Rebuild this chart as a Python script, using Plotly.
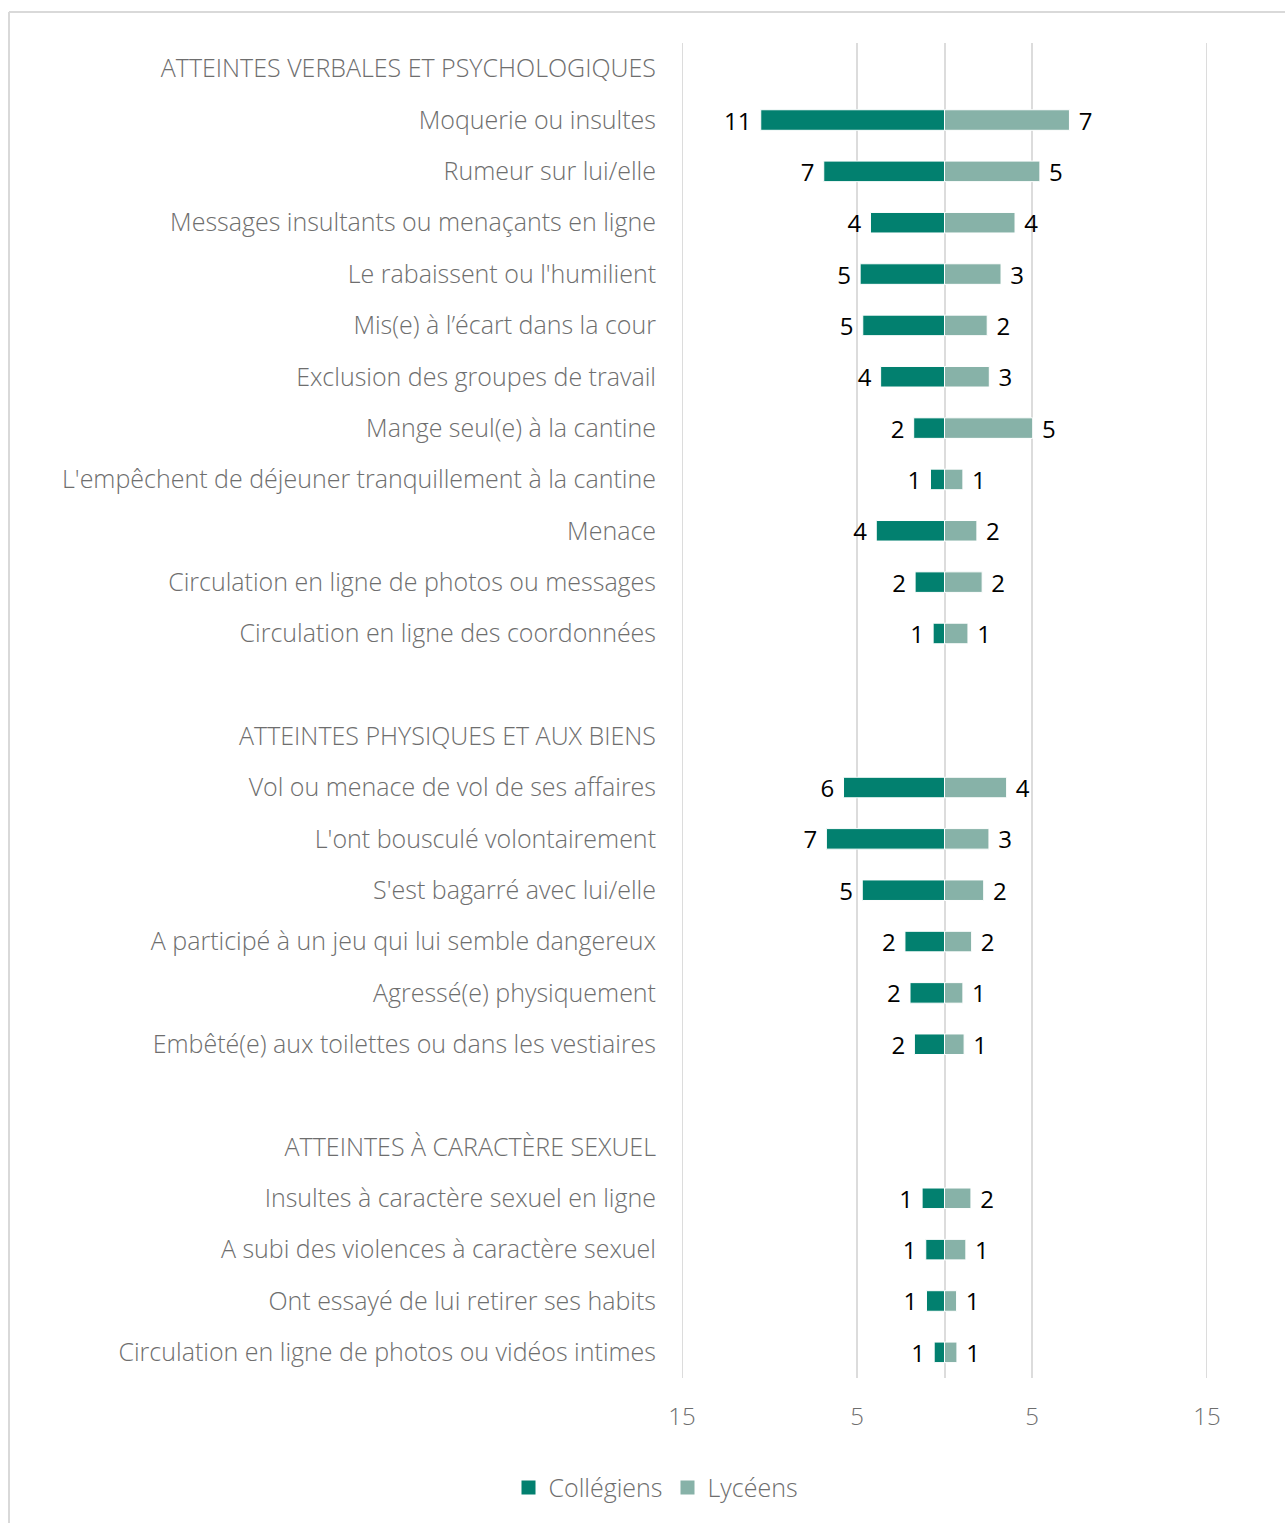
import plotly.graph_objects as go

categories = [
    "ATTEINTES VERBALES ET PSYCHOLOGIQUES",
    "Moquerie ou insultes",
    "Rumeur sur lui/elle",
    "Messages insultants ou menaçants en ligne",
    "Le rabaissent ou l'humilient",
    "Mis(e) à l’écart dans la cour",
    "Exclusion des groupes de travail",
    "Mange seul(e) à la cantine",
    "L'empêchent de déjeuner tranquillement à la cantine",
    "Menace",
    "Circulation en ligne de photos ou messages",
    "Circulation en ligne des coordonnées",
    " ",
    "ATTEINTES PHYSIQUES ET AUX BIENS",
    "Vol ou menace de vol de ses affaires",
    "L'ont bousculé volontairement",
    "S'est bagarré avec lui/elle",
    "A participé à un jeu qui lui semble dangereux",
    "Agressé(e) physiquement",
    "Embêté(e) aux toilettes ou dans les vestiaires",
    "  ",
    "ATTEINTES À CARACTÈRE SEXUEL",
    "Insultes à caractère sexuel en ligne",
    "A subi des violences à caractère sexuel",
    "Ont essayé de lui retirer ses habits",
    "Circulation en ligne de photos ou vidéos intimes",
]

# None = header / spacer rows (no bar)
college_values = [
    None, 10.5, 6.9, 4.23, 4.82, 4.67, 3.65, 1.76, 0.80, 3.9, 1.68, 0.65,
    None, None, 5.77, 6.75, 4.7, 2.26, 1.97, 1.72,
    None, None, 1.28, 1.07, 1.03, 0.59,
]
lycee_values = [
    None, 7.14, 5.45, 4.03, 3.23, 2.44, 2.56, 5.04, 1.05, 1.85, 2.15, 1.34,
    None, None, 3.55, 2.54, 2.24, 1.55, 1.05, 1.12,
    None, None, 1.51, 1.22, 0.69, 0.71,
]
college_labels = [
    "", "11", "7", "4", "5", "5", "4", "2", "1", "4", "2", "1",
    "", "", "6", "7", "5", "2", "2", "2",
    "", "", "1", "1", "1", "1",
]
lycee_labels = [
    "", "7", "5", "4", "3", "2", "3", "5", "1", "2", "2", "1",
    "", "", "4", "3", "2", "2", "1", "1",
    "", "", "2", "1", "1", "1",
]
series_names = ["Collégiens", "Lycéens"]

tick_vals = [-15, -5, 5, 15]
tick_text = ["15", "5", "5", "15"]

C_COLL = "#02806F"
C_LYC = "#87B2A8"
GRID = "#DCDCDC"
TXT = "#6E6E6E"
FONT = "Open Sans"

fig = go.Figure()
fig.add_trace(go.Bar(
    y=categories,
    x=[-v if v is not None else None for v in college_values],
    orientation="h",
    name=series_names[0],
    showlegend=False,
    marker=dict(color=C_COLL, line=dict(color="white", width=1)),
    width=0.4,
    text=[(t + " ") if t else "" for t in college_labels],
    textposition="outside",
    constraintext="none",
    cliponaxis=False,
    textfont=dict(family=FONT, size=24, color="black"),
    hoverinfo="skip",
))
fig.add_trace(go.Bar(
    y=categories,
    x=lycee_values,
    orientation="h",
    name=series_names[1],
    showlegend=False,
    marker=dict(color=C_LYC, line=dict(color="white", width=1)),
    width=0.4,
    text=[(" " + t) if t else "" for t in lycee_labels],
    textposition="outside",
    constraintext="none",
    cliponaxis=False,
    textfont=dict(family=FONT, size=24, color="black"),
    hoverinfo="skip",
))
# legend entries with larger square swatches
for nm, col in zip(series_names, [C_COLL, C_LYC]):
    fig.add_trace(go.Scatter(
        x=[None], y=[None], mode="markers", name=nm,
        marker=dict(symbol="square", size=14, color=col),
        hoverinfo="skip",
    ))

W, H = 1285, 1523
ml, mr, mt, mb = 682, 78, 43, 143
pw, ph = W - ml - mr, H - mt - mb

# grid lines at the range edges (plotly skips those)
edge_lines = [
    dict(type="line", xref="x", yref="paper", x0=v, x1=v, y0=0, y1=1,
         layer="below", line=dict(color=GRID, width=2))
    for v in (tick_vals[0], tick_vals[-1])
]

fig.update_layout(
    width=W, height=H,
    margin=dict(l=ml, r=mr, t=mt, b=mb),
    barmode="relative",
    plot_bgcolor="white",
    paper_bgcolor="white",
    font=dict(family=FONT, size=24, color=TXT),
    showlegend=True,
    legend=dict(
        orientation="h",
        x=(656 - ml) / pw, xanchor="center",
        y=(mt + ph - 1490) / ph, yanchor="middle",
        font=dict(family=FONT, size=25, color=TXT, weight=300),
        itemwidth=30,
        traceorder="normal",
    ),
    xaxis=dict(
        range=[-15, 15],
        tickvals=tick_vals,
        ticktext=tick_text,
        showgrid=True,
        gridcolor=GRID,
        gridwidth=2,
        zeroline=True,
        zerolinecolor=GRID,
        zerolinewidth=2,
        ticks="",
        showline=False,
        tickfont=dict(family=FONT, size=24, color=TXT, weight=300),
        ticklabelstandoff=22,
        fixedrange=True,
    ),
    yaxis=dict(
        type="category",
        categoryorder="array",
        categoryarray=categories,
        autorange="reversed",
        showgrid=False,
        zeroline=False,
        showline=False,
        ticks="",
        tickfont=dict(family=FONT, size=25, color=TXT, weight=300),
        ticklabelstandoff=25,
        fixedrange=True,
    ),
    shapes=edge_lines + [
        dict(type="line", xref="paper", yref="paper",
             x0=(9 - ml) / pw, x1=(W + 5 - ml) / pw,
             y0=(mt + ph - 12) / ph, y1=(mt + ph - 12) / ph,
             line=dict(color="#D9D9D9", width=2)),
        dict(type="line", xref="paper", yref="paper",
             x0=(9 - ml) / pw, x1=(9 - ml) / pw,
             y0=(mt + ph - 12) / ph, y1=(mt + ph - H - 5) / ph,
             line=dict(color="#D9D9D9", width=2)),
    ],
)

fig.write_html("out.html", config={"displayModeBar": False},
               post_script="document.body.style.margin='0';")
